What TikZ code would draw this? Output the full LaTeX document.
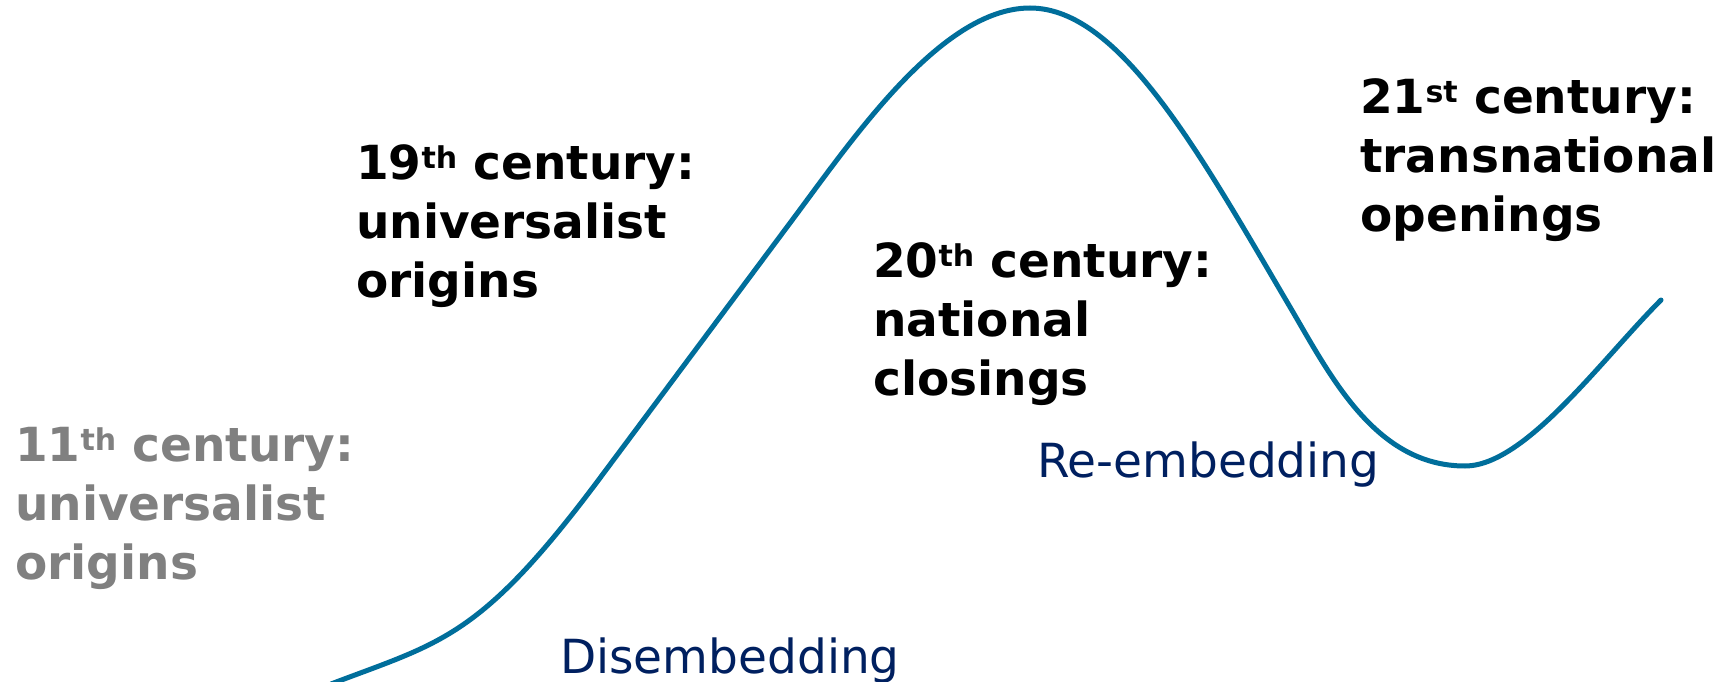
\documentclass[tikz,border=0pt]{standalone}
\usepackage{fontspec}
\setmainfont{DejaVu Sans}
\definecolor{curveblue}{RGB}{0,110,155}
\definecolor{navy}{RGB}{0,32,96}
\definecolor{greytxt}{RGB}{128,128,128}
\newcommand{\mysup}[1]{\raisebox{11pt}{\fontsize{30}{30}\selectfont #1}}
\tikzset{
  era/.style={anchor=base west, inner sep=0pt, align=left, font=\fontsize{47}{59}\selectfont\bfseries},
  phase/.style={anchor=base west, inner sep=0pt, text=navy, font=\fontsize{47}{59}\selectfont},
  curve/.style={draw=curveblue, line width=5pt, line cap=round, line join=round}
}
\begin{document}
\begin{tikzpicture}[x=1pt,y=-1pt]
\useasboundingbox (0,0) rectangle (1733,682);
\clip (0,0) rectangle (1733,682);
\fill[white] (0,0) rectangle (1733,682);
\coordinate (p0) at (331,684);
\coordinate (p1) at (600,478);
\coordinate (p2) at (790,223);
\coordinate (top) at (1030,8);
\coordinate (p4) at (1290,307);
\coordinate (low) at (1465,466);
\coordinate (end) at (1661,300);
\draw[curve] (p0) .. controls (441,642) and (480,639) .. (p1)
  -- (p2) .. controls (850,143) and (940,8) .. (top)
  .. controls (1120,8) and (1200,154) .. (p4)
  .. controls (1330,375) and (1375,466) .. (low)
  .. controls (1525,466) and (1601,360) .. (end);
\node[era, text=greytxt] (c11) at (15,579) {11\mysup{th} century:\\universalist\\origins};
\node[era] (c19) at (356,297) {19\mysup{th} century:\\universalist\\origins};
\node[era] (c20) at (873,395) {20\mysup{th} century:\\national\\closings};
\node[era] (c21) at (1360,231) {21\mysup{st} century:\\transnational\\openings};
\node[phase] (re) at (1037,477) {Re-embedding};
\node[phase] (dis) at (560,673) {Disembedding};
\end{tikzpicture}
\end{document}
